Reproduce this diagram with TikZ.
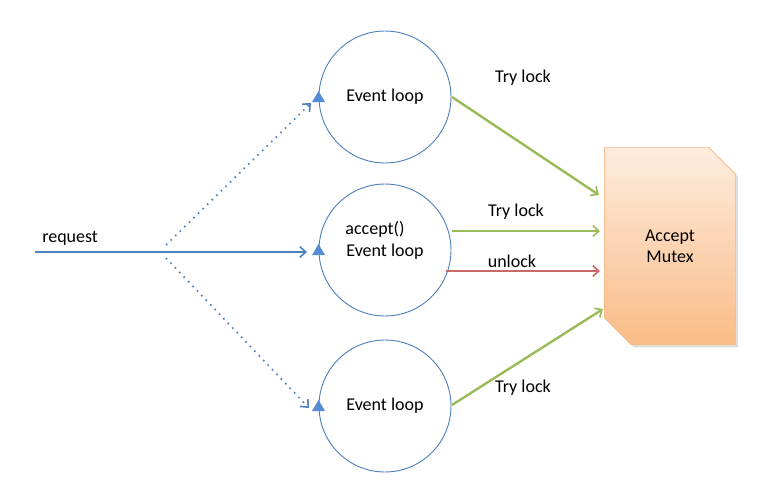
\documentclass[tikz,border=0pt]{standalone}
\usepackage{fontspec}
\setmainfont{Carlito}
\usetikzlibrary{arrows.meta,shapes.misc,shadows,calc}
\definecolor{pblue}{RGB}{79,129,189}
\definecolor{tblue}{RGB}{84,141,212}
\definecolor{pgreen}{RGB}{155,187,89}
\definecolor{pred}{RGB}{192,80,77}
\definecolor{otop}{RGB}{253,236,222}
\definecolor{obot}{RGB}{250,188,135}
\definecolor{oedge}{RGB}{247,180,125}
\tikzset{
  loopnode/.style={circle,draw=pblue,line width=0.7pt,minimum size=99pt,inner sep=0pt,font=\fontsize{13.5}{16}\selectfont},
  lbl/.style={font=\fontsize{13.5}{16}\selectfont,inner sep=0pt},
  tip/.style={-{Straight Barb[length=4.5pt,width=8pt,line width=1.2pt]}},
  reqline/.style={draw=pblue,line width=1.5pt,tip},
  dotline/.style={draw=pblue,line width=1.3pt,dash pattern=on 1.2pt off 3.6pt,tip},
  trylock/.style={draw=pgreen,line width=1.8pt,tip},
  unlockline/.style={draw=pred!85,line width=1.6pt,tip},
  mutexbox/.style={chamfered rectangle,chamfered rectangle corners={north east,south west},
    chamfered rectangle xsep=10pt,chamfered rectangle ysep=10pt,
    minimum width=98pt,minimum height=148pt,inner sep=0pt,
    draw=oedge,line width=0.5pt,top color=otop,bottom color=obot,
    drop shadow={shadow xshift=2pt,shadow yshift=-2pt,opacity=0.25},
    font=\fontsize{13.5}{16}\selectfont,align=center},
  cyc/.style={fill=tblue}
}
\begin{document}
\begin{tikzpicture}[x=0.75pt,y=-0.75pt]
\useasboundingbox (0,0) rectangle (783,500);
% loops
\node[loopnode] (c1) at (385,97) {Event loop};
\node[loopnode] (c2) at (385,250) {};
\node[lbl] (acc) at (375,229) {accept()};
\node[lbl] (ev2) at (385,252) {Event loop};
\node[loopnode] (c3) at (385,406) {Event loop};
% mutex
\node[mutexbox] (m) at (670,246) {Accept\\Mutex};
% cycle triangles
\foreach \c in {c1,c2,c3}{
  \fill[cyc] ($(\c.west)+(-6.5,5)$) -- ++(13,0) -- ++(-6.5,-11) -- cycle;
}
% request
\coordinate (rs) at (35,252);
\coordinate (re) at (307,252);
\coordinate (split1) at (166,245);
\coordinate (split2) at (166,258);
\coordinate (d1) at (311,103);
\coordinate (d3) at (309,408);
\node[lbl,anchor=south west] (req) at (42,246) {request};
\draw[reqline] (rs) -- (re);
\draw[dotline] (split1) -- (d1);
\draw[dotline] (split2) -- (d3);
% lock arrows
\coordinate (a1s) at (452,97);
\coordinate (a1e) at (599,195);
\coordinate (a2s) at (452,231);
\coordinate (a2e) at (600,231);
\coordinate (a3s) at (446,271);
\coordinate (a3e) at (600,271);
\coordinate (a4s) at (452,405);
\coordinate (a4e) at (603,309);
\draw[trylock] (a1s) -- (a1e);
\draw[trylock] (a2s) -- (a2e);
\draw[unlockline] (a3s) -- (a3e);
\draw[trylock] (a4s) -- (a4e);
\node[lbl] (t1) at (523,78) {Try lock};
\node[lbl] (t2) at (516,212) {Try lock};
\node[lbl] (t3) at (512,261) {unlock};
\node[lbl] (t4) at (523,388) {Try lock};
\end{tikzpicture}
\end{document}
